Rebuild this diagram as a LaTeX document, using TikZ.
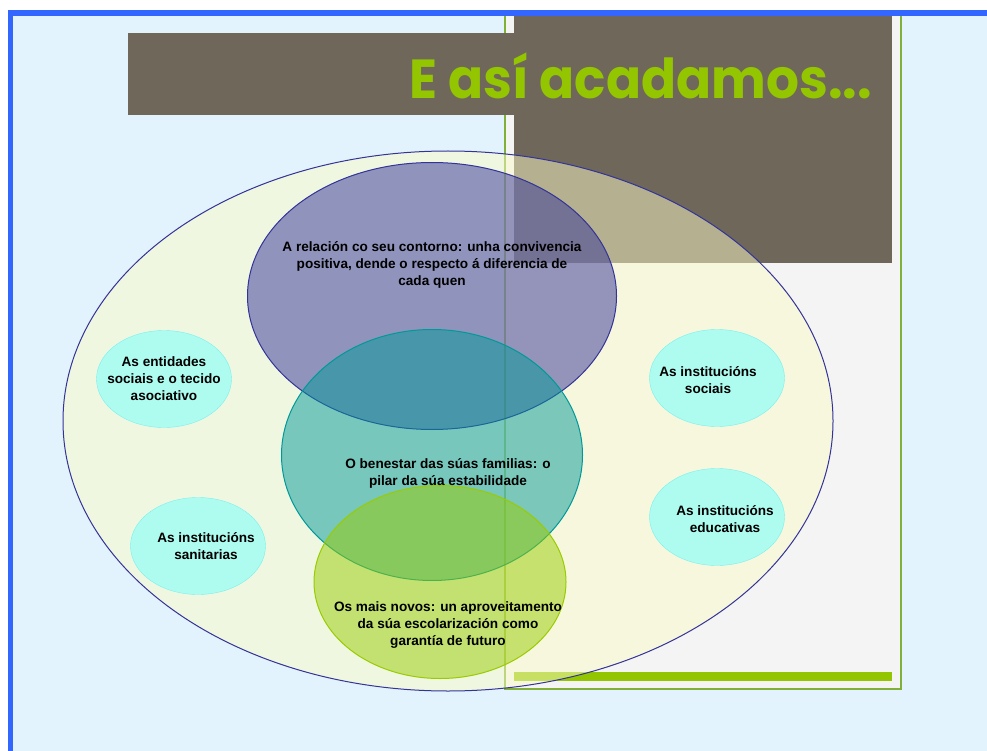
\documentclass[tikz,border=0pt]{standalone}
\usepackage{fontspec}
\setmainfont{Liberation Sans}
\newfontfamily\titlefont{Poppins}
\usetikzlibrary{shapes.geometric}

\definecolor{slideblue}{RGB}{51,102,255}
\definecolor{slidebg}{RGB}{227,243,253}
\definecolor{panelgray}{RGB}{244,244,244}
\definecolor{paneledge}{RGB}{128,176,56}
\definecolor{slidebrown}{RGB}{111,103,89}
\definecolor{titlegreen}{RGB}{147,197,0}
\definecolor{bigfill}{RGB}{251,251,199}
\definecolor{navy}{RGB}{51,51,153}
\definecolor{tealc}{RGB}{0,153,153}
\definecolor{limec}{RGB}{153,204,0}
\definecolor{cyanfill}{RGB}{174,252,240}
\definecolor{cyanedge}{RGB}{120,240,240}

\begin{document}
\begin{tikzpicture}[x=1pt, y=-1pt,
    ring/.style={ellipse, inner sep=0pt, line width=1pt, fill opacity=0.5},
    cyanring/.style={ellipse, inner sep=0pt, draw=cyanedge, fill=cyanfill,
        minimum width=135pt, minimum height=97pt},
    txt/.style={font=\bfseries\fontsize{13.6}{17}\selectfont, align=center, inner sep=0pt}]
        % ==== SLIDE BACKGROUND ====
        \useasboundingbox (0,0) rectangle (987,751);
        \fill[white] (0,0) rectangle (987,751);
        \fill[slideblue] (8,10) rectangle (987,751);
        \fill[slidebg] (13,16) rectangle (987,751);
        % ==== RIGHT PANEL ====
        \fill[panelgray] (505,16) rectangle (901,689);
        \draw[paneledge, line width=2pt] (505,16) -- (505,689) -- (901,689) -- (901,16);
        \fill[slidebrown] (514,16) rectangle (892,263);
        \fill[slidebrown] (128,33) rectangle (892,115);
        \fill[titlegreen] (514,672) rectangle (892,681);
        \node[anchor=base east, inner sep=0pt, text=titlegreen,
            font=\titlefont\bfseries\fontsize{55}{60}\selectfont] (title) at (872,99)
            {\scalebox{0.94}[1]{E así acadamos...}};

        % ==== OUTER ELLIPSE ====
        \node[ring, draw=navy, fill=bigfill, minimum width=770pt, minimum height=540pt] (outer) at (448,421) {};

        % ==== SMALL ELLIPSES ====
        \node[cyanring] (entidades) at (164,379) {};
        \node[cyanring] (sanitarias) at (198,546) {};
        \node[cyanring] (sociais) at (717,378) {};
        \node[cyanring] (educativas) at (717,517) {};
        \node[txt] (entidades-txt) at (164,379) {As entidades\\sociais e o tecido\\asociativo};
        \node[txt] (sanitarias-txt) at (206,546) {As institucións\\sanitarias};
        \node[txt] (sociais-txt) at (708,380) {As institucións\\sociais};
        \node[txt] (educativas-txt) at (725,519) {As institucións\\educativas};

        % ==== THREE OVERLAPPING ELLIPSES ====
        \node[ring, draw=navy, fill=navy, minimum width=369pt, minimum height=267pt] (contorno) at (432,296) {};
        \node[ring, draw=tealc, fill=tealc, minimum width=301pt, minimum height=251pt] (familias) at (432,455) {};
        \node[ring, draw=limec, fill=limec, minimum width=252pt, minimum height=193pt] (novos) at (440,582) {};
        \node[txt] (contorno-txt) at (432,265) {A relación co seu contorno: unha convivencia\\positiva, dende o respecto á diferencia de\\cada quen};
        \node[txt] (familias-txt) at (448,473) {O benestar das súas familias: o\\pilar da súa estabilidade};
        \node[txt] (novos-txt) at (448,625) {Os mais novos: un aproveitamento\\da súa escolarización como\\garantía de futuro};
\end{tikzpicture}
\end{document}
